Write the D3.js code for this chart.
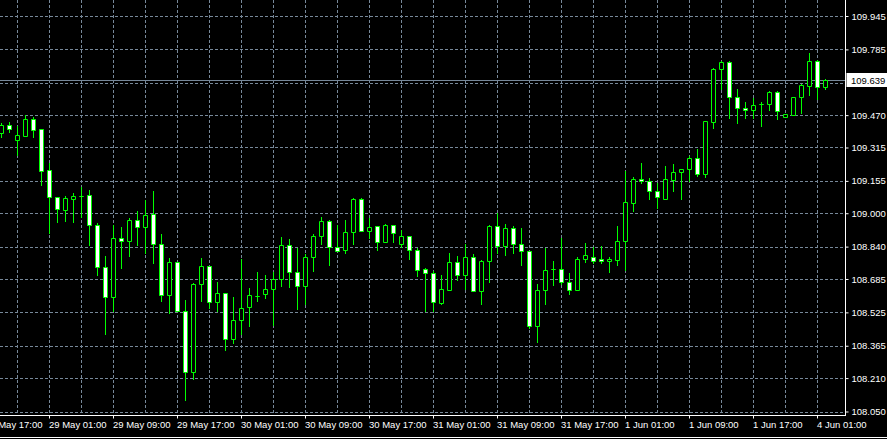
<!DOCTYPE html>
<html><head><meta charset="utf-8">
<script src="https://cdn.jsdelivr.net/npm/d3@7"></script>
<style>
html,body{margin:0;padding:0;background:#000;}
svg{display:block;}
text{font-family:"Liberation Sans",Arial,sans-serif;font-size:9.5px;}
</style></head><body>
<svg id="chart" width="887" height="439"></svg>
<script>
// Hourly candles, index 0 = 28 May 19:00, index 103 = 4 Jun 02:00
const open = [109.385,109.425,109.355,109.374,109.452,109.405,109.208,109.082,109.019,109.069,
109.085,109.088,108.945,108.743,108.602,108.882,108.871,108.968,108.938,108.997,
108.853,108.609,108.767,108.532,108.240,108.662,108.748,108.576,108.622,108.401,
108.489,108.552,108.607,108.614,108.638,108.689,108.849,108.719,108.652,108.791,
108.892,108.964,108.839,108.825,108.911,109.069,108.916,108.940,108.863,108.945,
108.853,108.892,108.825,108.734,108.715,108.574,108.633,108.767,108.705,108.791,
108.628,108.772,108.940,108.844,108.930,108.853,108.820,108.463,108.633,108.737,
108.737,108.671,108.633,108.782,108.791,108.782,108.772,108.780,108.868,109.050,
109.165,109.155,109.107,109.072,109.163,109.198,109.213,109.266,109.189,109.438,
109.692,109.726,109.558,109.505,109.496,109.524,109.524,109.582,109.462,109.472,
109.558,109.610,109.730,109.606];
const high = [109.433,109.438,109.420,109.473,109.462,109.405,109.242,109.082,109.085,109.098,
109.128,109.114,108.954,108.797,108.946,108.936,108.978,109.013,109.066,109.109,
108.903,108.788,108.767,108.587,108.669,108.788,108.748,108.673,108.622,108.601,
108.783,108.644,108.721,108.705,108.721,108.888,108.879,108.836,108.806,108.901,
108.984,108.970,108.946,108.970,109.075,109.075,108.978,108.940,108.951,108.945,
108.922,108.892,108.834,108.738,108.724,108.705,108.812,108.797,108.856,108.807,
108.777,108.945,109.002,108.951,108.940,108.932,108.820,108.662,108.837,108.772,
108.882,108.715,108.791,108.860,108.839,108.844,108.791,108.941,109.203,109.174,
109.243,109.170,109.146,109.229,109.238,109.213,109.275,109.309,109.444,109.697,
109.730,109.730,109.596,109.534,109.553,109.534,109.587,109.587,109.476,109.558,
109.620,109.769,109.735,109.644];
const low = [109.369,109.393,109.281,109.374,109.369,109.138,108.909,108.962,108.965,108.962,
108.986,108.850,108.706,108.424,108.535,108.740,108.799,108.850,108.813,108.765,
108.583,108.526,108.535,108.109,108.207,108.583,108.550,108.535,108.348,108.382,
108.422,108.463,108.583,108.596,108.467,108.654,108.649,108.542,108.566,108.727,
108.856,108.756,108.820,108.813,108.856,108.916,108.882,108.828,108.863,108.866,
108.839,108.784,108.703,108.535,108.535,108.569,108.633,108.682,108.641,108.628,
108.569,108.674,108.810,108.804,108.813,108.756,108.451,108.387,108.569,108.660,
108.662,108.617,108.633,108.769,108.765,108.764,108.722,108.756,108.732,109.014,
109.149,109.072,109.026,109.069,109.110,109.072,109.155,109.183,109.174,109.412,
109.599,109.460,109.433,109.460,109.457,109.422,109.498,109.455,109.462,109.472,
109.481,109.567,109.548,109.596];
const close = [109.425,109.407,109.376,109.452,109.403,109.206,109.082,109.021,109.074,109.083,
109.085,108.947,108.743,108.602,108.882,108.871,108.968,108.938,108.992,108.853,
108.609,108.767,108.535,108.240,108.663,108.748,108.576,108.622,108.398,108.489,
108.547,108.609,108.607,108.638,108.689,108.849,108.719,108.652,108.791,108.893,
108.964,108.839,108.820,108.911,109.069,108.916,108.935,108.863,108.945,108.906,
108.892,108.825,108.729,108.715,108.576,108.638,108.767,108.705,108.791,108.628,
108.772,108.940,108.844,108.930,108.853,108.820,108.463,108.633,108.729,108.737,
108.671,108.633,108.782,108.801,108.772,108.772,108.782,108.868,109.055,109.165,
109.155,109.107,109.079,109.165,109.198,109.213,109.266,109.189,109.444,109.692,
109.726,109.558,109.505,109.496,109.519,109.524,109.582,109.491,109.476,109.558,
109.615,109.730,109.606,109.639];

const priceTicks = [109.945,109.785,109.470,109.315,109.155,109.000,108.840,108.685,108.525,108.365,108.210,108.050];
const gridPrices = [109.945,109.785,109.625,109.470,109.315,109.155,109.000,108.840,108.685,108.525,108.365,108.210,108.050];
const currentPrice = 109.639;
const timeTickIndex = [-2,6,14,22,30,38,46,54,62,70,78,86,94,102];
const timeTickLabels = ["28 May 17:00","29 May 01:00","29 May 09:00","29 May 17:00","30 May 01:00","30 May 09:00",
"30 May 17:00","31 May 01:00","31 May 09:00","31 May 17:00","1 Jun 01:00","1 Jun 09:00","1 Jun 17:00","4 Jun 01:00"];

const bars = open.map((o,i)=>({i, o, h:high[i], l:low[i], c:close[i]}));

const svg = d3.select("#chart");
const plotRight = 845, plotBottom = 415;
const GRID = "#778899", CANDLE = "#00ff00";
const FONT = "Liberation Sans, Arial, sans-serif";

const x = d3.scaleLinear().domain([0, 103]).range([1.5, 825.5]);
const y = d3.scaleLinear().domain([108.050, 109.945]).range([412, 16.5]);

svg.append("rect").attr("width",887).attr("height",439).attr("fill","#000");

// grid
const grid = svg.append("g");
const vIdx = d3.range(2, 104, 4);
grid.selectAll("line.v").data(vIdx).join("line")
  .attr("x1", d=>x(d)).attr("x2", d=>x(d)).attr("y1",0).attr("y2",plotBottom)
  .attr("stroke",GRID).attr("stroke-dasharray","3,2");
grid.selectAll("line.h").data(gridPrices).join("line")
  .attr("x1",0).attr("x2",plotRight)
  .attr("y1", d=>Math.floor(y(d))+0.5).attr("y2", d=>Math.floor(y(d))+0.5)
  .attr("stroke",GRID).attr("stroke-dasharray","3,2");

// current price line
const yp = Math.floor(y(currentPrice))+0.5;
svg.append("line").attr("x1",0).attr("x2",plotRight).attr("y1",yp).attr("y2",yp).attr("stroke",GRID);

// candles
const cg = svg.append("g");
const cs = cg.selectAll("g").data(bars).join("g");
cs.append("line")
  .attr("x1", d=>x(d.i)).attr("x2", d=>x(d.i))
  .attr("y1", d=>Math.round(y(d.h))).attr("y2", d=>Math.round(y(d.l))+1)
  .attr("stroke", CANDLE);
cs.append("path")
  .attr("d", d=>{
    const cx = x(d.i);
    const t = Math.round(Math.min(y(d.o), y(d.c))) + 0.5;
    const b = Math.round(Math.max(y(d.o), y(d.c))) + 0.5;
    return `M${cx-2},${t}H${cx+2}V${b}H${cx-2}Z`;
  })
  .attr("fill", d=> d.o > d.c ? "#ffffff" : "#000000")
  .attr("stroke", CANDLE);

// axes
const yAxis = d3.axisRight(y).tickValues(priceTicks).tickFormat(d3.format(".3f"))
  .tickSize(3).tickPadding(3).offset(0);
const ya = svg.append("g").attr("transform",`translate(${plotRight+0.5},0)`).call(yAxis);
ya.select(".domain").remove();
ya.selectAll(".tick line").attr("stroke","#fff");
ya.selectAll(".tick text").attr("fill","#fff").style("font-size","9.5px").style("font-family",FONT);

const xAxis = d3.axisBottom(x).tickValues(timeTickIndex).tickFormat((d,i)=>timeTickLabels[i])
  .tickSize(3).tickPadding(3).offset(0);
const xa = svg.append("g").attr("transform",`translate(0,${plotBottom+0.5})`).call(xAxis);
xa.select(".domain").remove();
xa.selectAll(".tick line").attr("stroke","#fff");
xa.selectAll(".tick text").attr("fill","#fff").attr("text-anchor","start").attr("x",-0.5)
  .style("font-size","9.5px").style("font-family",FONT);

// frame lines
svg.append("line").attr("x1",0).attr("x2",plotRight+1).attr("y1",plotBottom+0.5).attr("y2",plotBottom+0.5).attr("stroke","#fff");
svg.append("line").attr("x1",plotRight+0.5).attr("x2",plotRight+0.5).attr("y1",0).attr("y2",plotBottom+1).attr("stroke","#fff");
svg.append("line").attr("x1",0).attr("x2",887).attr("y1",437.5).attr("y2",437.5).attr("stroke","#fff");

// current price label
svg.append("rect").attr("x",846.5).attr("y",yp-7.5).attr("width",41).attr("height",14).attr("fill","#fff");
svg.append("text").attr("x",851).attr("y",yp).attr("dy","0.32em").attr("fill","#000")
  .style("font-size","9.5px").style("font-family",FONT).text(d3.format(".3f")(currentPrice));
</script>
</body></html>
